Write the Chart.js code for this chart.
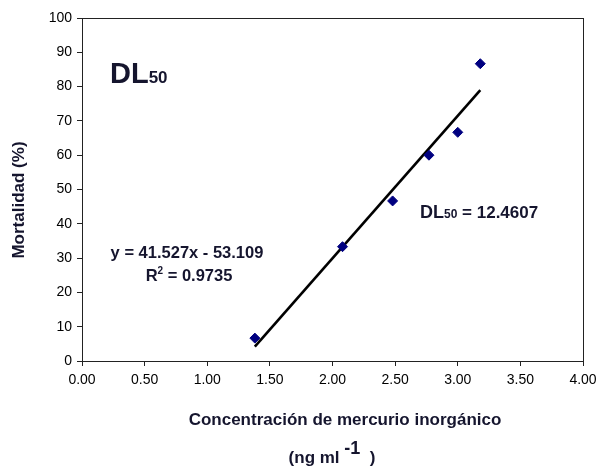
<!DOCTYPE html>
<html>
<head>
<meta charset="utf-8">
<script src="https://cdn.jsdelivr.net/npm/chart.js@4/dist/chart.umd.min.js"></script>
<style>
html,body{margin:0;padding:0;background:#fff;}
#wrap{width:600px;height:468px;position:relative;}
</style>
</head>
<body>
<div id="wrap"><canvas id="c" width="600" height="468"></canvas></div>
<script>
// Data
const concentration = [1.38, 2.08, 2.48, 2.77, 3.00, 3.18];
const mortality = [6.67, 33.33, 46.67, 60.0, 66.67, 86.67];
const trendSlope = 41.527;
const trendIntercept = -53.109;
const xTickValues = [0, 0.5, 1, 1.5, 2, 2.5, 3, 3.5, 4];
const yTickValues = [0, 10, 20, 30, 40, 50, 60, 70, 80, 90, 100];
const equationLabel = 'y = 41.527x - 53.109';
const r2Label = '0.9735';
const dl50Value = '12.4607';
const xTitle = 'Concentración de mercurio inorgánico';
const yTitle = 'Mortalidad (%)';

const FONT = '"Liberation Sans", Arial, sans-serif';
const TXT = '#15152e';

const xMin = Math.min(...concentration), xMax = Math.max(...concentration);
const trendData = [xMin, xMax].map(x => ({x: x, y: trendSlope * x + trendIntercept}));

function drawParts(ctx, parts, x, y, align) {
  let total = 0;
  parts.forEach(p => { ctx.font = 'bold ' + p.size + 'px ' + FONT; p.w = ctx.measureText(p.t).width; total += p.w; });
  let cx = align === 'center' ? x - total / 2 : x;
  ctx.textAlign = 'left';
  ctx.textBaseline = 'alphabetic';
  parts.forEach(p => {
    ctx.font = 'bold ' + p.size + 'px ' + FONT;
    ctx.fillText(p.t, cx, y + (p.dy || 0));
    cx += p.w;
  });
}

const annotations = {
  id: 'annotations',
  afterDraw(chart) {
    const ctx = chart.ctx;
    const a = chart.chartArea;
    ctx.save();
    ctx.strokeStyle = '#222';
    ctx.lineWidth = 1;
    ctx.strokeRect(a.left + 0.5, a.top + 0.5, a.right - a.left, a.bottom - a.top);
    ctx.fillStyle = TXT;
    // DL50 big label
    drawParts(ctx, [{t: 'DL', size: 29}, {t: '50', size: 17}], 110, 83, 'left');
    // equation
    drawParts(ctx, [{t: equationLabel, size: 16.5}], 187, 258, 'center');
    drawParts(ctx, [{t: 'R', size: 16.5}, {t: '2', size: 10, dy: -7}, {t: ' = ' + r2Label, size: 16.5}], 189, 281, 'center');
    // DL50 value
    drawParts(ctx, [{t: 'DL', size: 18}, {t: '50', size: 12}, {t: ' = ' + dl50Value, size: 17}], 420, 218, 'left');
    // x axis title
    drawParts(ctx, [{t: xTitle, size: 17}], 345, 425, 'center');
    drawParts(ctx, [{t: '(ng ml ', size: 17}, {t: '-1', size: 18, dy: -9}, {t: '  )', size: 17}], 332, 463, 'center');
    // y axis title
    ctx.translate(24, 200);
    ctx.rotate(-Math.PI / 2);
    drawParts(ctx, [{t: yTitle, size: 17}], 0, 0, 'center');
    ctx.restore();
  }
};

new Chart(document.getElementById('c'), {
  type: 'scatter',
  data: {
    datasets: [
      {
        type: 'line',
        data: trendData,
        borderColor: '#000',
        borderWidth: 2.6,
        pointRadius: 0,
        fill: false,
        order: 2
      },
      {
        data: concentration.map((x, i) => ({x: x, y: mortality[i]})),
        backgroundColor: '#000080',
        borderColor: '#000080',
        pointStyle: 'rectRot',
        pointRadius: 5,
        order: 1
      }
    ]
  },
  options: {
    responsive: false,
    animation: false,
    layout: {padding: {left: 0, right: 17, top: 18, bottom: 0}},
    plugins: {legend: {display: false}, tooltip: {enabled: false}},
    scales: {
      x: {
        type: 'linear',
        min: 0, max: 4,
        afterBuildTicks: s => { s.ticks = xTickValues.map(v => ({value: v})); },
        afterFit: s => { s.height = 107; s.paddingRight = 0; },
        ticks: {
          callback: v => Number(v).toFixed(2),
          color: '#000',
          font: {family: FONT, size: 14},
          padding: 6,
          maxRotation: 0
        },
        grid: {drawOnChartArea: false, drawTicks: true, tickLength: 5, color: '#222'},
        border: {display: true, color: '#222', width: 1}
      },
      y: {
        type: 'linear',
        min: 0, max: 100,
        afterBuildTicks: s => { s.ticks = yTickValues.map(v => ({value: v})); },
        afterFit: s => { s.width = 82; s.paddingTop = 0; s.paddingBottom = 0; },
        ticks: {
          color: '#000',
          font: {family: FONT, size: 14},
          padding: 5
        },
        grid: {drawOnChartArea: false, drawTicks: true, tickLength: 5, color: '#222'},
        border: {display: true, color: '#222', width: 1}
      }
    }
  },
  plugins: [annotations]
});
</script>
</body>
</html>
